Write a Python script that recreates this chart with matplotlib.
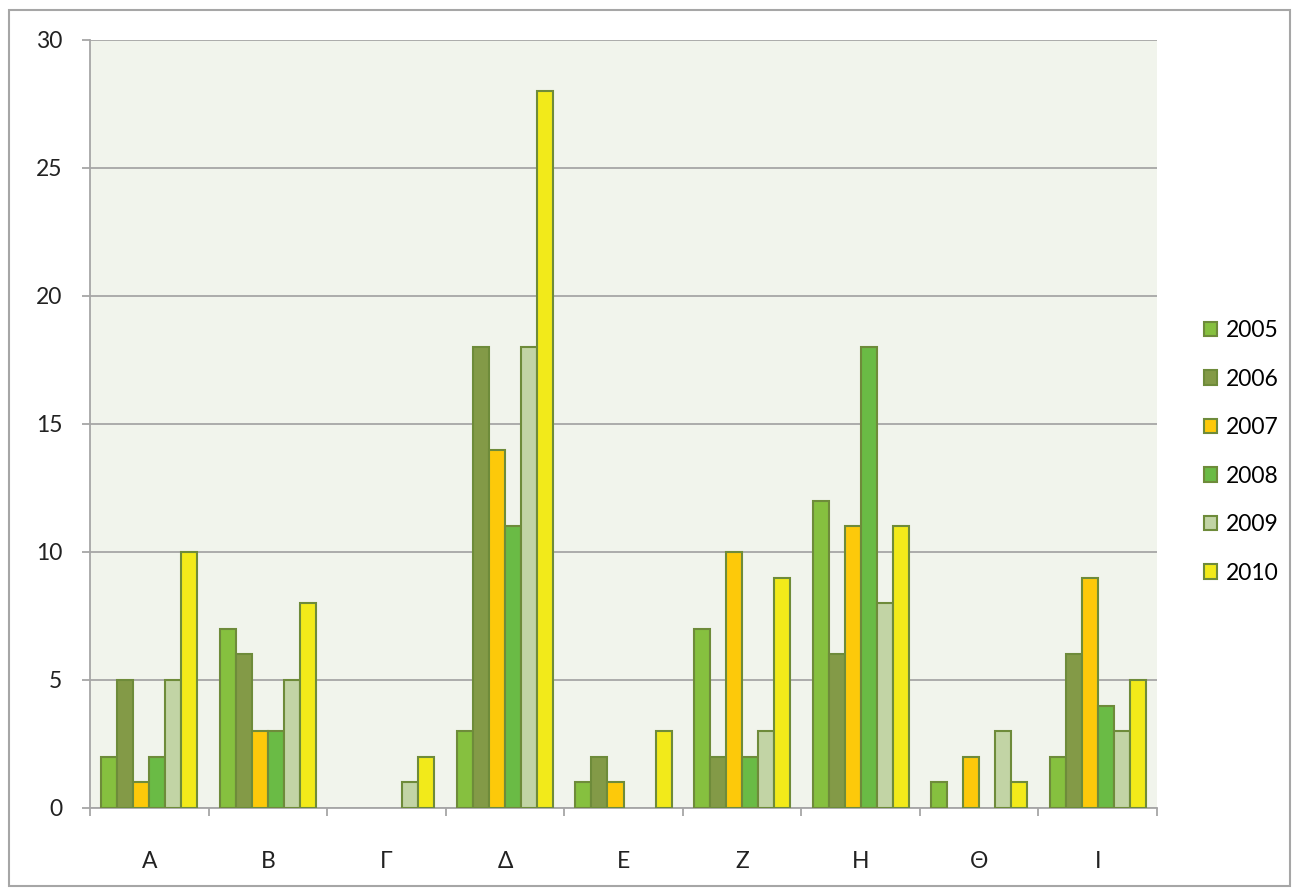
import matplotlib
matplotlib.use("Agg")
import matplotlib.pyplot as plt
import numpy as np
from matplotlib.patches import Rectangle, Patch

categories = ["Α", "Β", "Γ", "Δ", "Ε", "Ζ", "Η", "Θ", "Ι"]
years = ["2005", "2006", "2007", "2008", "2009", "2010"]
v2005 = [2, 7, 0, 3, 1, 7, 12, 1, 2]
v2006 = [5, 6, 0, 18, 2, 2, 6, 0, 6]
v2007 = [1, 3, 0, 14, 1, 10, 11, 2, 9]
v2008 = [2, 3, 0, 11, 0, 2, 18, 0, 4]
v2009 = [5, 5, 1, 18, 0, 3, 8, 3, 3]
v2010 = [10, 8, 2, 28, 3, 9, 11, 1, 5]
series = [v2005, v2006, v2007, v2008, v2009, v2010]
colors = ["#86C03F", "#839A47", "#FDC90A", "#6ABB45", "#C2D4A5", "#F2EA1A"]
edge = "#6E8B3A"

plt.rcParams['font.family'] = ['Lato', 'DejaVu Sans']

fig = plt.figure(figsize=(12.93, 8.89), dpi=100)
ax = fig.add_axes([90/1293, 1-808/889, (1157-90)/1293, (808-40)/889])
ax.set_facecolor("#F1F4EC")

n = len(series)
bw = 1.0 / (n + 1.4)
x = np.arange(len(categories))
for i, (vals, c, y) in enumerate(zip(series, colors, years)):
    offs = (i - (n - 1) / 2) * bw
    arr = np.array(vals, dtype=float)
    mask = arr > 0
    ax.bar((x + offs)[mask], arr[mask], width=bw, color=c, edgecolor=edge, linewidth=1.5, label=y, zorder=3)

ax.set_xlim(-0.5, len(categories) - 0.5)
ax.set_ylim(0, 30)
ax.set_yticks(np.arange(0, 31, 5))
ax.yaxis.grid(True, color="#A6A6A6", linewidth=1.3, zorder=0)
ax.set_axisbelow(True)

ax.set_xticks(x)
ax.set_xticklabels(categories)
ax.tick_params(axis='x', which='major', length=0, pad=31, labelsize=16.5, labelcolor="#222222")
ax.set_xticks(np.arange(-0.5, len(categories)), minor=True)
ax.tick_params(axis='x', which='minor', length=6, width=1.3, color="#A6A6A6")
ax.tick_params(axis='y', length=6, width=1.3, color="#A6A6A6", pad=14, labelsize=16.5, labelcolor="#222222")

for s in ["top", "right"]:
    ax.spines[s].set_visible(False)
for s in ["left", "bottom"]:
    ax.spines[s].set_color("#A6A6A6")
    ax.spines[s].set_linewidth(1.3)

handles = [Patch(facecolor=c, edgecolor=edge, linewidth=1.5, label=y) for c, y in zip(colors, years)]
fig.legend(handles=handles, loc='center left', bbox_to_anchor=(1183/1293, 1-452/889), frameon=False,
           fontsize=16.5, handlelength=0.6, handleheight=0.6, handletextpad=0.35, labelspacing=1.2)

fig.patches.append(Rectangle((9/1293, 1-886/889), (1290-9)/1293, (886-10)/889, transform=fig.transFigure,
                             fill=False, edgecolor="#A6A6A6", linewidth=1.5))

fig.savefig("out.png", dpi=100)
